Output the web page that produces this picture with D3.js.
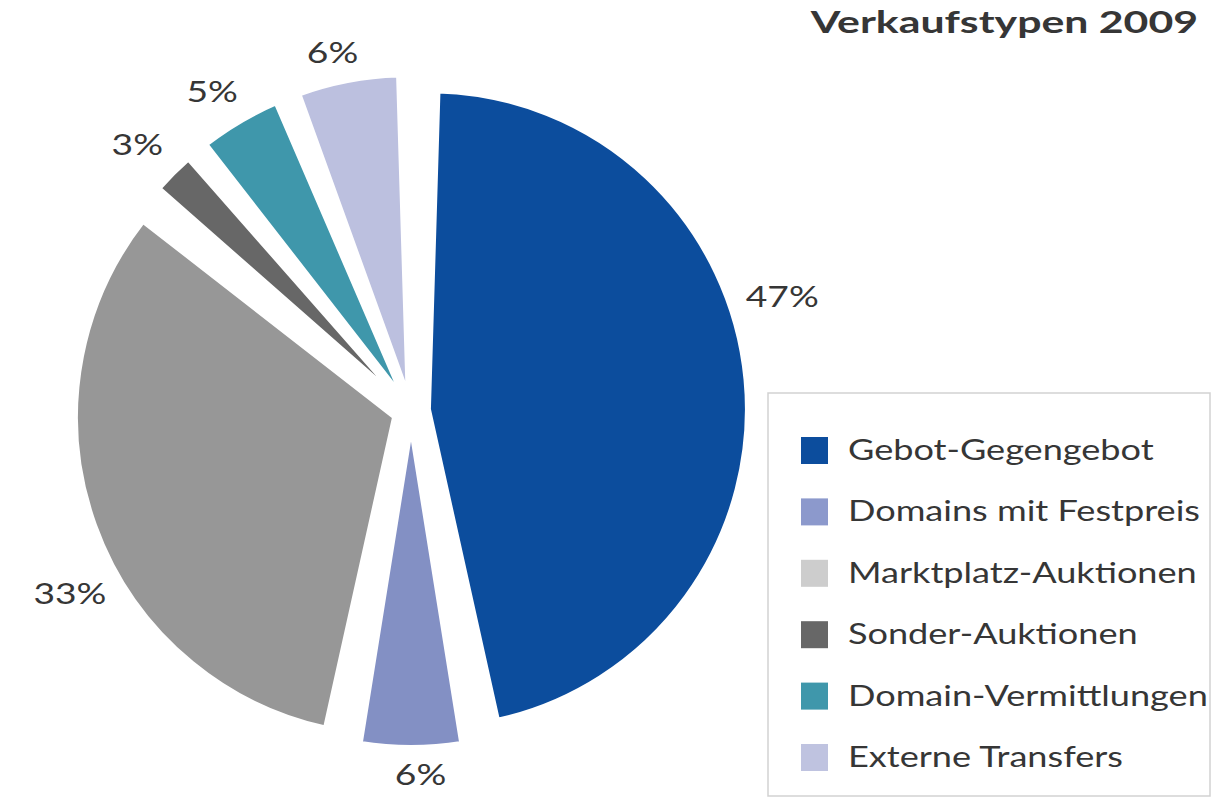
<!DOCTYPE html>
<html>
<head>
<meta charset="utf-8">
<script src="https://cdn.jsdelivr.net/npm/d3@7"></script>
<style>
  body { margin: 0; background: #fff; }
  text { font-family: Lato, "Open Sans", sans-serif; fill: #363636; }
</style>
</head>
<body>
<script>

// chart data
var categories = ["Gebot-Gegengebot", "Domains mit Festpreis", "Marktplatz-Auktionen",
                  "Sonder-Auktionen", "Domain-Vermittlungen", "Externe Transfers"]
var shares = [47, 6, 33, 3, 5, 6]
var slice_colors = ["#0c4d9d", "#8390c4", "#979797", "#676767", "#3f97ab", "#bcc0df"]
var legend_colors = ["#0c4d9d", "#8c99cc", "#cdcdcd", "#676767", "#3f97ab", "#bfc3e0"]
var title = "Verkaufstypen 2009"

var width = 1217,
    height = 801;

// the reference font runs much wider than Lato, so text gets stretched sideways
var stretch = 1.29;

var svg = d3.select("body")
  .append("svg")
  .attr("width", width)
  .attr("height", height)

// pie geometry
var cx = 411, cy = 411, radius = 318, explode = 18;

var pie = d3.pie()
  .sort(null)
  .value(function(d) { return d.value; })

var arc = d3.arc()
  .innerRadius(0)
  .outerRadius(radius)
  .padAngle(0.06)

var data = categories.map(function(c, i) {
  return {name: c, value: shares[i], color: slice_colors[i], legend: legend_colors[i]}
})

var arcs = pie(data)

var g = svg.append("g")
  .attr("transform", "translate(" + cx + "," + cy + ")")

// slices, each pushed out along its middle angle
g.selectAll("path")
  .data(arcs)
  .enter().append("path")
  .attr("d", arc)
  .attr("fill", function(d) { return d.data.color })
  .attr("stroke", "#fff")
  .attr("stroke-width", 4)
  .attr("transform", function(d) {
    var a = (d.startAngle + d.endAngle) / 2
    return "translate(" + (explode * Math.sin(a)) + "," + (-explode * Math.cos(a)) + ")"
  })

// percentage labels: pushed out a bit more where the text runs sideways
function label_angle(d) { return d.startAngle + 0.43 * (d.endAngle - d.startAngle) }
function label_r(a) { return 362 + 28 * Math.abs(Math.sin(a)) }

g.selectAll("text.pct")
  .data(arcs)
  .enter().append("text")
  .attr("class", "pct")
  .attr("transform", function(d) {
    var a = label_angle(d), r = label_r(a)
    return "translate(" + (r * Math.sin(a)) + "," + (-r * Math.cos(a)) + ") scale(1.33,1)"
  })
  .attr("text-anchor", "middle")
  .attr("dominant-baseline", "central")
  .style("font-size", "28px")
  .text(function(d) { return d.data.value + "%" })

// title
svg.append("text")
  .attr("transform", "translate(1198,33) scale(1.38,1)")
  .attr("text-anchor", "end")
  .style("font-size", "31px")
  .style("font-weight", "bold")
  .text(title)

// legend box
var legend = svg.append("g")
  .attr("transform", "translate(768,393)")

legend.append("rect")
  .attr("width", 442)
  .attr("height", 403)
  .attr("fill", "#fff")
  .attr("stroke", "#d2d2d2")
  .attr("stroke-width", 1.5)

var row = legend.selectAll("g.row")
  .data(data)
  .enter().append("g")
  .attr("class", "row")
  .attr("transform", function(d, i) { return "translate(33," + (44 + i * 61.4) + ")" })

row.append("rect")
  .attr("width", 27)
  .attr("height", 27)
  .attr("fill", function(d) { return d.legend })

row.append("text")
  .attr("transform", "translate(47,23) scale(" + stretch + ",1)")
  .style("font-size", "28px")
  .text(function(d) { return d.name })

</script>
</body>
</html>
